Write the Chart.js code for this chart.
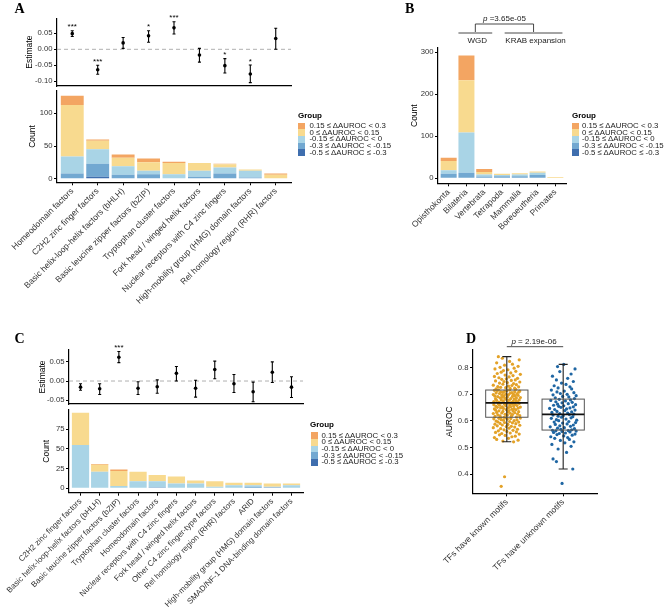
<!DOCTYPE html>
<html><head><meta charset="utf-8">
<script src="https://cdn.jsdelivr.net/npm/chart.js@4.4.1/dist/chart.umd.min.js"></script>
<style>
html,body{margin:0;padding:0;background:#fff;width:666px;height:614px;overflow:hidden;font-family:"Liberation Sans",Arial,sans-serif;}
canvas{position:absolute;}
.letter{position:absolute;font-family:"Liberation Serif","Times New Roman",serif;font-weight:bold;font-size:14px;line-height:1;color:#000;}
.lg{position:absolute;font-size:7.8px;line-height:1;color:#1a1a1a;white-space:nowrap;transform:translateY(-50%);}
.lgt{position:absolute;font-size:8px;font-weight:bold;line-height:1;color:#000;transform:translateY(-50%);}
</style></head><body>
<canvas id="aEst" width="300" height="92" style="left:0;top:0"></canvas>
<canvas id="aBar" width="300" height="222" style="left:0;top:88px"></canvas>
<canvas id="bBar" width="180" height="242" style="left:395px;top:8px"></canvas>
<canvas id="cEst" width="310" height="70" style="left:0;top:340px"></canvas>
<canvas id="cBar" width="310" height="209" style="left:0;top:405px"></canvas>
<canvas id="dBox" width="176" height="279" style="left:430px;top:335px"></canvas>
<div class="letter" style="left:14.5px;top:1.8px">A</div>
<div class="letter" style="left:405px;top:1.8px">B</div>
<div class="letter" style="left:14.5px;top:331.5px">C</div>
<div class="letter" style="left:466px;top:331.5px">D</div>

<script>
// ---------------- DATA ----------------
// stack order bottom -> top
const groupLabels = ["-0.5 ≤ ΔAUROC ≤ -0.3","-0.3 ≤ ΔAUROC < -0.15","-0.15 ≤ ΔAUROC < 0","0 ≤ ΔAUROC < 0.15","0.15 ≤ ΔAUROC < 0.3"];
const groupColors = ["#3F6EAE","#72A8D1","#A9D4E6","#F8DA8F","#F3A562"];

// Panel A
const catsA = ["Homeodomain factors","C2H2 zinc finger factors","Basic helix-loop-helix factors (bHLH)","Basic leucine zipper factors (bZIP)","Tryptophan cluster factors","Fork head / winged helix factors","Nuclear receptors with C4 zinc fingers","High-mobility group (HMG) domain factors","Rel homology region (RHR) factors"];
const estA = [0.049,-0.064,0.020,0.042,0.067,-0.018,-0.051,-0.077,0.034];
const loA  = [0.040,-0.078,0.003,0.022,0.048,-0.040,-0.074,-0.104,0.000];
const hiA  = [0.058,-0.050,0.037,0.058,0.086,0.003,-0.029,-0.049,0.066];
const sigA = ["***","***","","*","***","","*","*",""];
const aDark   = [0,3,0,0,0,0,0,0,0];
const aMedium = [8,20,6,7,0,3,8,2,0];
const aLight  = [26,22,13,5,7,9,9,10,0];
const aYellow = [79,13,13,13,17,12,5,2,6];
const aOrange = [14,2,5,6,2,0,1,0,2];
const estTicksA = [-0.10,-0.05,0.00,0.05];
const countTicksA = [0,50,100];

// Panel B
const catsB = ["Opisthokonta","Bilateria","Vertebrata","Tetrapoda","Mammalia","Boreoeutheria","Primates"];
const bDark   = [0,0,0,0,0,0,0];
const bMedium = [11,13,4,5,5,8,0];
const bLight  = [8,96,5,3,4,5,1];
const bYellow = [22,124,6,3,3,3,2];
const bOrange = [8,59,7,0,0,0,0];
const countTicksB = [0,100,200,300];
const wgdSpan = [0.55,2.45];
const krabSpan = [3.15,6.4];
const spanLabels = ["WGD","KRAB expansion"];
const pB = "3.65e-05";

// Panel C
const catsC = ["C2H2 zinc finger factors","Basic helix-loop-helix factors (bHLH)","Basic leucine zipper factors (bZIP)","Tryptophan cluster factors","Homeodomain factors","Nuclear receptors with C4 zinc fingers","Fork head / winged helix factors","Other C4 zinc finger-type factors","Rel homology region (RHR) factors","ARID","High-mobility group (HMG) domain factors","SMAD/NF-1 DNA-binding domain factors"];
const estC = [-0.016,-0.020,0.062,-0.019,-0.015,0.020,-0.019,0.030,-0.007,-0.028,0.023,-0.016];
const loC  = [-0.024,-0.035,0.048,-0.035,-0.032,0.000,-0.042,0.006,-0.030,-0.054,-0.004,-0.043];
const hiC  = [-0.007,-0.007,0.077,-0.002,0.003,0.038,0.002,0.052,0.017,-0.003,0.050,0.011];
const sigC = ["","","***","","","","","","","","",""];
const cDark   = [0,0,0,0,1,0,0,0,0,0,1,0];
const cMedium = [0,0,0,0,0,0,0,0,0,2,0,0];
const cLight  = [55,21,3,9,8,6,6,2,4,2,1,4];
const cYellow = [41,9,19,12,8,9,4,7,3,3,4,2];
const cOrange = [0,1,2,0,0,0,0,0,0,0,0,0];
const estTicksC = [-0.05,0.00,0.05];
const countTicksC = [0,25,50,75];

// Panel D
const catsD = ["TFs have known motifs","TFs have unknown motifs"];
const knownAUROC = [0.391,0.355,
0.522,0.525,0.528,0.531,0.535,0.538,0.541,0.543,0.546,0.548,0.551,0.553,0.555,0.557,0.559,0.561,0.563,0.565,0.567,0.569,0.571,0.573,0.575,0.577,0.579,0.580,0.582,0.584,0.585,0.587,0.588,0.590,0.591,0.593,0.594,0.596,0.597,0.598,0.600,0.601,0.603,0.604,0.605,0.607,0.608,0.609,0.610,0.611,0.612,0.613,
0.614,0.615,0.617,0.618,0.619,0.620,0.622,0.623,0.624,0.625,0.626,0.628,0.629,0.630,0.631,0.632,0.634,0.635,0.636,0.637,0.638,0.639,0.641,0.642,0.643,0.644,0.645,0.646,0.647,0.648,0.649,0.650,0.651,0.652,0.653,0.654,0.655,0.656,0.657,0.658,0.659,0.660,0.661,0.662,0.663,0.664,0.665,0.666,0.667,0.668,
0.669,0.670,0.671,0.672,0.673,0.674,0.675,0.676,0.677,0.678,0.679,0.680,0.681,0.682,0.683,0.684,0.685,0.686,0.687,0.688,0.689,0.690,0.691,0.692,0.693,0.694,0.695,0.696,0.697,0.698,0.699,0.700,0.701,0.702,0.703,0.704,0.705,0.706,0.707,0.708,0.709,0.710,0.711,0.712,0.713,0.714,0.715,0.716,
0.717,0.719,0.720,0.722,0.723,0.725,0.726,0.728,0.729,0.731,0.733,0.734,0.736,0.738,0.740,0.742,0.744,0.746,0.748,0.750,0.752,0.754,0.756,0.758,0.760,0.762,0.765,0.767,0.770,0.772,0.775,0.778,0.780,0.783,0.786,0.789,0.792,0.795,0.798,0.801,0.805,0.809,0.813,0.818,0.823,0.829,0.835,0.841];
const knownJitter = [-4,-10,
12,-7,20,-18,3,-22,9,15,-3,-13,22,-9,6,-20,17,0,-15,11,-5,19,-11,4,-24,14,-1,8,-17,23,-8,2,-21,16,-12,10,-4,21,-16,5,-19,13,-6,18,-10,1,-23,7,-14,24,-2,-11,
-5,17,-21,8,-12,23,1,-16,10,-3,19,-24,6,-9,14,-18,2,21,-7,11,-14,4,-20,16,-1,9,-22,13,-6,20,-11,3,-17,24,-8,7,-19,12,-2,18,-13,5,-23,15,-4,10,-15,22,0,-10,
8,-14,2,19,-23,11,-6,16,-18,4,22,-10,-1,13,-20,7,-3,17,-12,24,-8,1,-16,10,-21,15,-5,20,-9,3,-24,12,-2,18,-13,6,-19,9,-7,21,-11,14,-4,23,-17,0,-22,5,-15,16,
-19,6,14,-2,-11,21,-16,3,9,-24,17,-7,12,-13,1,23,-5,-20,8,15,-9,-1,19,-14,4,-22,11,-3,24,-17,7,-10,16,-6,2,-21,13,-12,20,-4,10,-18,5,22,-8,-15];
const unknownAUROC = [0.366,
0.420,0.448,0.458,0.482,0.495,0.505,0.512,0.518,0.522,0.527,0.531,0.535,0.538,0.541,0.544,0.547,0.549,0.551,0.553,0.555,0.557,0.559,0.561,0.562,0.563,0.564,0.565,
0.567,0.569,0.571,0.573,0.575,0.578,0.580,0.582,0.585,0.587,0.589,0.592,0.594,0.596,0.598,0.601,0.603,0.605,0.607,0.610,0.612,0.614,0.616,0.618,0.620,0.622,0.624,
0.626,0.628,0.630,0.632,0.634,0.636,0.639,0.641,0.643,0.645,0.647,0.649,0.651,0.653,0.655,0.657,0.659,0.661,0.663,0.665,0.668,0.670,0.672,0.675,0.677,0.679,0.681,
0.684,0.687,0.690,0.692,0.695,0.698,0.700,0.703,0.706,0.709,0.712,0.716,0.720,0.724,0.728,0.732,0.737,0.742,0.748,0.754,0.760,0.768,0.776,0.785,0.795,0.804,0.812];
const unknownJitter = [-2,
17,-12,-18,6,-9,14,-20,3,19,-5,11,-15,8,-22,1,16,-11,21,-7,4,-17,12,-2,23,-13,9,
-19,15,-4,20,-10,2,-23,13,-6,18,-14,7,-1,22,-16,10,-8,24,-12,5,-21,14,-3,17,-9,0,-18,11,19,
-6,8,-20,15,-11,3,21,-15,6,-24,12,-4,18,-8,1,-17,22,-10,9,-2,16,-13,4,-22,13,-7,20,
-14,10,-1,23,-18,7,-5,19,-11,2,-21,15,-9,12,-16,5,-3,18,-12,8,-19,14,-6,21,-10,1,-15];
const boxQ1  = [0.614,0.566];
const boxMed = [0.668,0.625];
const boxQ3  = [0.716,0.682];
const whiskLo = [0.522,0.420];
const whiskHi = [0.841,0.812];
const pD = "2.19e-06";
const auTicks = [0.4,0.5,0.6,0.7,0.8];

// ---------------- HELPERS ----------------
const FONT = "'Liberation Sans', Arial, sans-serif";
const TICKC = "#333333";
Chart.defaults.font.family = FONT;
Chart.defaults.animation = false;

function yAxis(min, max, ticks, fmt, width, title, titleCenter, stacked) {
  return {
    type:'linear', min, max, stacked: !!stacked, offset:false,
    afterBuildTicks: s => { s.ticks = ticks.map(v => ({value:v})); },
    afterFit: s => { s.width = width; s.paddingTop = 0; s.paddingBottom = 0; },
    ticks: { callback: v => fmt(v), font:{size:7.7}, color:TICKC, padding:1.5, autoSkip:false },
    grid: { display:true, drawOnChartArea:false, drawTicks:true, tickLength:3, color:'#000', tickColor:'#000', tickWidth:1, offset:false },
    border: { display:true, color:'#000', width:1.2 },
    title: { display:true, text:title, font:{size:8.5}, color:'#000', padding:{top: titleCenter - 5.1, bottom:0} }
  };
}
function xCat(cats, min, max, first, height, fsize) {
  return {
    type:'linear', min, max, offset:false,
    afterBuildTicks: s => { s.ticks = cats.map((c,i) => ({value:i+first})); },
    afterFit: s => { s.height = height; s.paddingLeft = 0; s.paddingRight = 0; },
    ticks: { autoSkip:false, minRotation:45, maxRotation:45, callback: v => cats[Math.round(v - first)], font:{size:fsize}, color:TICKC, padding:1 },
    grid: { display:true, drawOnChartArea:false, drawTicks:true, tickLength:3, color:'#000', tickColor:'#000', tickWidth:1, offset:false },
    border: { display:true, color:'#000', width:1.2 }
  };
}
function xPlain(n) {
  return {
    type:'linear', min:-0.6, max:n-0.4, offset:false,
    afterFit: s => { s.height = 0; s.paddingLeft = 0; s.paddingRight = 0; },
    ticks:{display:false}, grid:{display:false},
    border:{display:true, color:'#000', width:1.2}
  };
}
function stackSets(series) {
  return series.map((vals,k) => ({
    data: vals.map((v,i) => ({x:i, y:v})),
    backgroundColor: groupColors[k], borderWidth:0, grouped:false,
    barPercentage:0.9, categoryPercentage:1
  }));
}
const baseOpts = (pad) => ({
  responsive:false, animation:false, events:[], layout:{padding:pad},
  plugins:{legend:{display:false}, tooltip:{enabled:false}}
});
function errPlugin(lo, hi, sig) {
  return { id:'err', beforeDatasetsDraw(chart) {
    const {ctx, chartArea:a, scales:{x, y}} = chart;
    ctx.save();
    const y0 = y.getPixelForValue(0);
    ctx.strokeStyle = '#9c9c9c'; ctx.lineWidth = 0.8; ctx.setLineDash([4,3]);
    ctx.beginPath(); ctx.moveTo(a.left, y0); ctx.lineTo(a.right, y0); ctx.stroke();
    ctx.setLineDash([]);
    ctx.strokeStyle = '#000'; ctx.lineWidth = 1.1;
    lo.forEach((l,i) => {
      const px = x.getPixelForValue(i), pl = y.getPixelForValue(l), ph = y.getPixelForValue(hi[i]);
      ctx.beginPath();
      ctx.moveTo(px, pl); ctx.lineTo(px, ph);
      ctx.moveTo(px-1.5, pl); ctx.lineTo(px+1.5, pl);
      ctx.moveTo(px-1.5, ph); ctx.lineTo(px+1.5, ph);
      ctx.stroke();
      if (sig[i]) {
        ctx.fillStyle = '#000'; ctx.font = '8px ' + FONT; ctx.textAlign = 'center'; ctx.textBaseline = 'alphabetic';
        ctx.fillText(sig[i], px, ph - 1.5);
      }
    });
    ctx.restore();
  }};
}
function pText(ctx, cx, cy, rest) {
  ctx.save();
  ctx.fillStyle = '#1a1a1a'; ctx.textBaseline = 'middle'; ctx.textAlign = 'left';
  ctx.font = 'italic 8px ' + FONT; const w1 = ctx.measureText('p').width;
  ctx.font = '8px ' + FONT; const w2 = ctx.measureText(rest).width;
  const x0 = cx - (w1 + w2) / 2;
  ctx.font = 'italic 8px ' + FONT; ctx.fillText('p', x0, cy);
  ctx.font = '8px ' + FONT; ctx.fillText(rest, x0 + w1, cy);
  ctx.restore();
}
function buildLegend(titleLeft, titleY, keyLeft, firstTop, textLeft) {
  const t = document.createElement('div'); t.className = 'lgt';
  t.style.left = titleLeft + 'px'; t.style.top = titleY + 'px'; t.textContent = 'Group';
  document.body.appendChild(t);
  [4,3,2,1,0].forEach((k, r) => {
    const top = firstTop + r * 6.7;
    const sq = document.createElement('div');
    sq.style.cssText = `position:absolute;left:${keyLeft}px;top:${top}px;width:7px;height:6.7px;background:${groupColors[k]}`;
    document.body.appendChild(sq);
    const tx = document.createElement('div'); tx.className = 'lg';
    tx.style.left = textLeft + 'px'; tx.style.top = (top + 3.35) + 'px'; tx.textContent = groupLabels[k];
    document.body.appendChild(tx);
  });
}

// ---------------- PANEL A ----------------
new Chart(document.getElementById('aEst'), {
  type:'scatter',
  data:{datasets:[{data: estA.map((v,i) => ({x:i, y:v})), pointRadius:1.8, backgroundColor:'#000', borderWidth:0}]},
  options:Object.assign(baseOpts({left:0, top:18.3, right:9, bottom:6}), {
    scales:{ x: xPlain(catsA.length), y: yAxis(-0.1146, 0.0969, estTicksA, v => v.toFixed(2), 57, 'Estimate', 30) }
  }),
  plugins:[errPlugin(loA, hiA, sigA)]
});
new Chart(document.getElementById('aBar'), {
  type:'bar',
  data:{datasets: stackSets([aDark, aMedium, aLight, aYellow, aOrange])},
  options:Object.assign(baseOpts({left:0, top:2.7, right:9, bottom:0}), {
    scales:{ x: xCat(catsA, -0.6, catsA.length-0.4, 0, 127.7, 8.5), y: yAxis(-5.5, 134.7, countTicksA, v => String(v), 57, 'Count', 33, true) }
  })
});
buildLegend(298, 116, 298, 122.6, 309.5);

// ---------------- PANEL B ----------------
new Chart(document.getElementById('bBar'), {
  type:'bar',
  data:{datasets: stackSets([bDark, bMedium, bLight, bYellow, bOrange])},
  options:Object.assign(baseOpts({left:0, top:40, right:9, bottom:0}), {
    scales:{ x: xCat(catsB, -0.6, catsB.length-0.4, 0, 66.7, 8.5), y: yAxis(-12, 310, countTicksB, v => String(v), 43, 'Count', 20, true) }
  }),
  plugins:[{ id:'bracketB', afterDraw(chart) {
    const {ctx, scales:{x}} = chart;
    const wl = x.getPixelForValue(wgdSpan[0]), wr = x.getPixelForValue(wgdSpan[1]);
    const kl = x.getPixelForValue(krabSpan[0]), kr = x.getPixelForValue(krabSpan[1]);
    const wm = (wl + wr) / 2, km = (kl + kr) / 2;
    const yLow = 25, yTop = 16;
    ctx.save(); ctx.strokeStyle = '#333'; ctx.lineWidth = 0.9;
    ctx.beginPath();
    ctx.moveTo(wl, yLow); ctx.lineTo(wr, yLow);
    ctx.moveTo(kl, yLow); ctx.lineTo(kr, yLow);
    ctx.moveTo(wm, yLow - 1); ctx.lineTo(wm, yTop); ctx.lineTo(km, yTop); ctx.lineTo(km, yLow - 1);
    ctx.stroke();
    ctx.fillStyle = '#1a1a1a'; ctx.font = '8px ' + FONT; ctx.textAlign = 'center'; ctx.textBaseline = 'middle';
    ctx.fillText(spanLabels[0], wm + 2, 32.3);
    ctx.fillText(spanLabels[1], km + 2, 32.3);
    ctx.restore();
    pText(ctx, (wm + km) / 2, 10.3, ' =' + pB);
  }}]
});
buildLegend(572, 116, 572, 122.6, 582);

// ---------------- PANEL C ----------------
new Chart(document.getElementById('cEst'), {
  type:'scatter',
  data:{datasets:[{data: estC.map((v,i) => ({x:i, y:v})), pointRadius:1.8, backgroundColor:'#000', borderWidth:0}]},
  options:Object.assign(baseOpts({left:0, top:10, right:7, bottom:6}), {
    scales:{ x: xPlain(catsC.length), y: yAxis(-0.060, 0.081, estTicksC, v => v.toFixed(2), 69, 'Estimate', 43) }
  }),
  plugins:[errPlugin(loC, hiC, sigC)]
});
new Chart(document.getElementById('cBar'), {
  type:'bar',
  data:{datasets: stackSets([cDark, cMedium, cLight, cYellow, cOrange])},
  options:Object.assign(baseOpts({left:0, top:5, right:7, bottom:0}), {
    scales:{ x: xCat(catsC, -0.6, catsC.length-0.4, 0, 121.3, 8), y: yAxis(-5.6, 99.6, countTicksC, v => String(v), 69, 'Count', 47, true) }
  })
});
buildLegend(310, 425, 311, 432.2, 321.5);

// ---------------- PANEL D ----------------
new Chart(document.getElementById('dBox'), {
  type:'scatter',
  data:{datasets:[
    {data: knownAUROC.map((v,i) => ({x: 1 + knownJitter[i] / 100, y: v})), pointRadius:1.6, backgroundColor:'#E3A228', borderWidth:0},
    {data: unknownAUROC.map((v,i) => ({x: 2 + unknownJitter[i] / 100, y: v})), pointRadius:1.6, backgroundColor:'#1F66A3', borderWidth:0}
  ]},
  options:Object.assign(baseOpts({left:0, top:15, right:9, bottom:0}), {
    scales:{ x: xCat(catsD, 0.4, 2.6, 1, 120.7, 8.5), y: yAxis(0.329, 0.866, auTicks, v => v.toFixed(1), 43, 'AUROC', 20) }
  }),
  plugins:[{ id:'boxD', afterDatasetsDraw(chart) {
    const {ctx, scales:{x, y}} = chart;
    ctx.save();
    boxMed.forEach((m, i) => {
      const c = x.getPixelForValue(i + 1);
      const hw = x.getPixelForValue(i + 1 + 0.375) - c;
      const cw = x.getPixelForValue(i + 1 + 0.08) - c;
      const yl = y.getPixelForValue(whiskLo[i]), yh = y.getPixelForValue(whiskHi[i]);
      const q1 = y.getPixelForValue(boxQ1[i]), q3 = y.getPixelForValue(boxQ3[i]), md = y.getPixelForValue(m);
      ctx.strokeStyle = '#222'; ctx.lineWidth = 1.1;
      ctx.beginPath();
      ctx.moveTo(c, yl); ctx.lineTo(c, yh);
      ctx.moveTo(c - cw, yl); ctx.lineTo(c + cw, yl);
      ctx.moveTo(c - cw, yh); ctx.lineTo(c + cw, yh);
      ctx.stroke();
      ctx.strokeStyle = '#555'; ctx.lineWidth = 1;
      ctx.strokeRect(c - hw, q3, 2 * hw, q1 - q3);
      ctx.strokeStyle = '#111'; ctx.lineWidth = 1.8;
      ctx.beginPath(); ctx.moveTo(c - hw, md); ctx.lineTo(c + hw, md); ctx.stroke();
    });
    const c1 = x.getPixelForValue(1), c2 = x.getPixelForValue(2);
    ctx.strokeStyle = '#333'; ctx.lineWidth = 0.9;
    ctx.beginPath(); ctx.moveTo(c1, 11.7); ctx.lineTo(c2, 11.7); ctx.stroke();
    ctx.restore();
    pText(ctx, (c1 + c2) / 2 - 1, 6.5, ' = ' + pD);
  }}]
});
</script>
</body></html>
